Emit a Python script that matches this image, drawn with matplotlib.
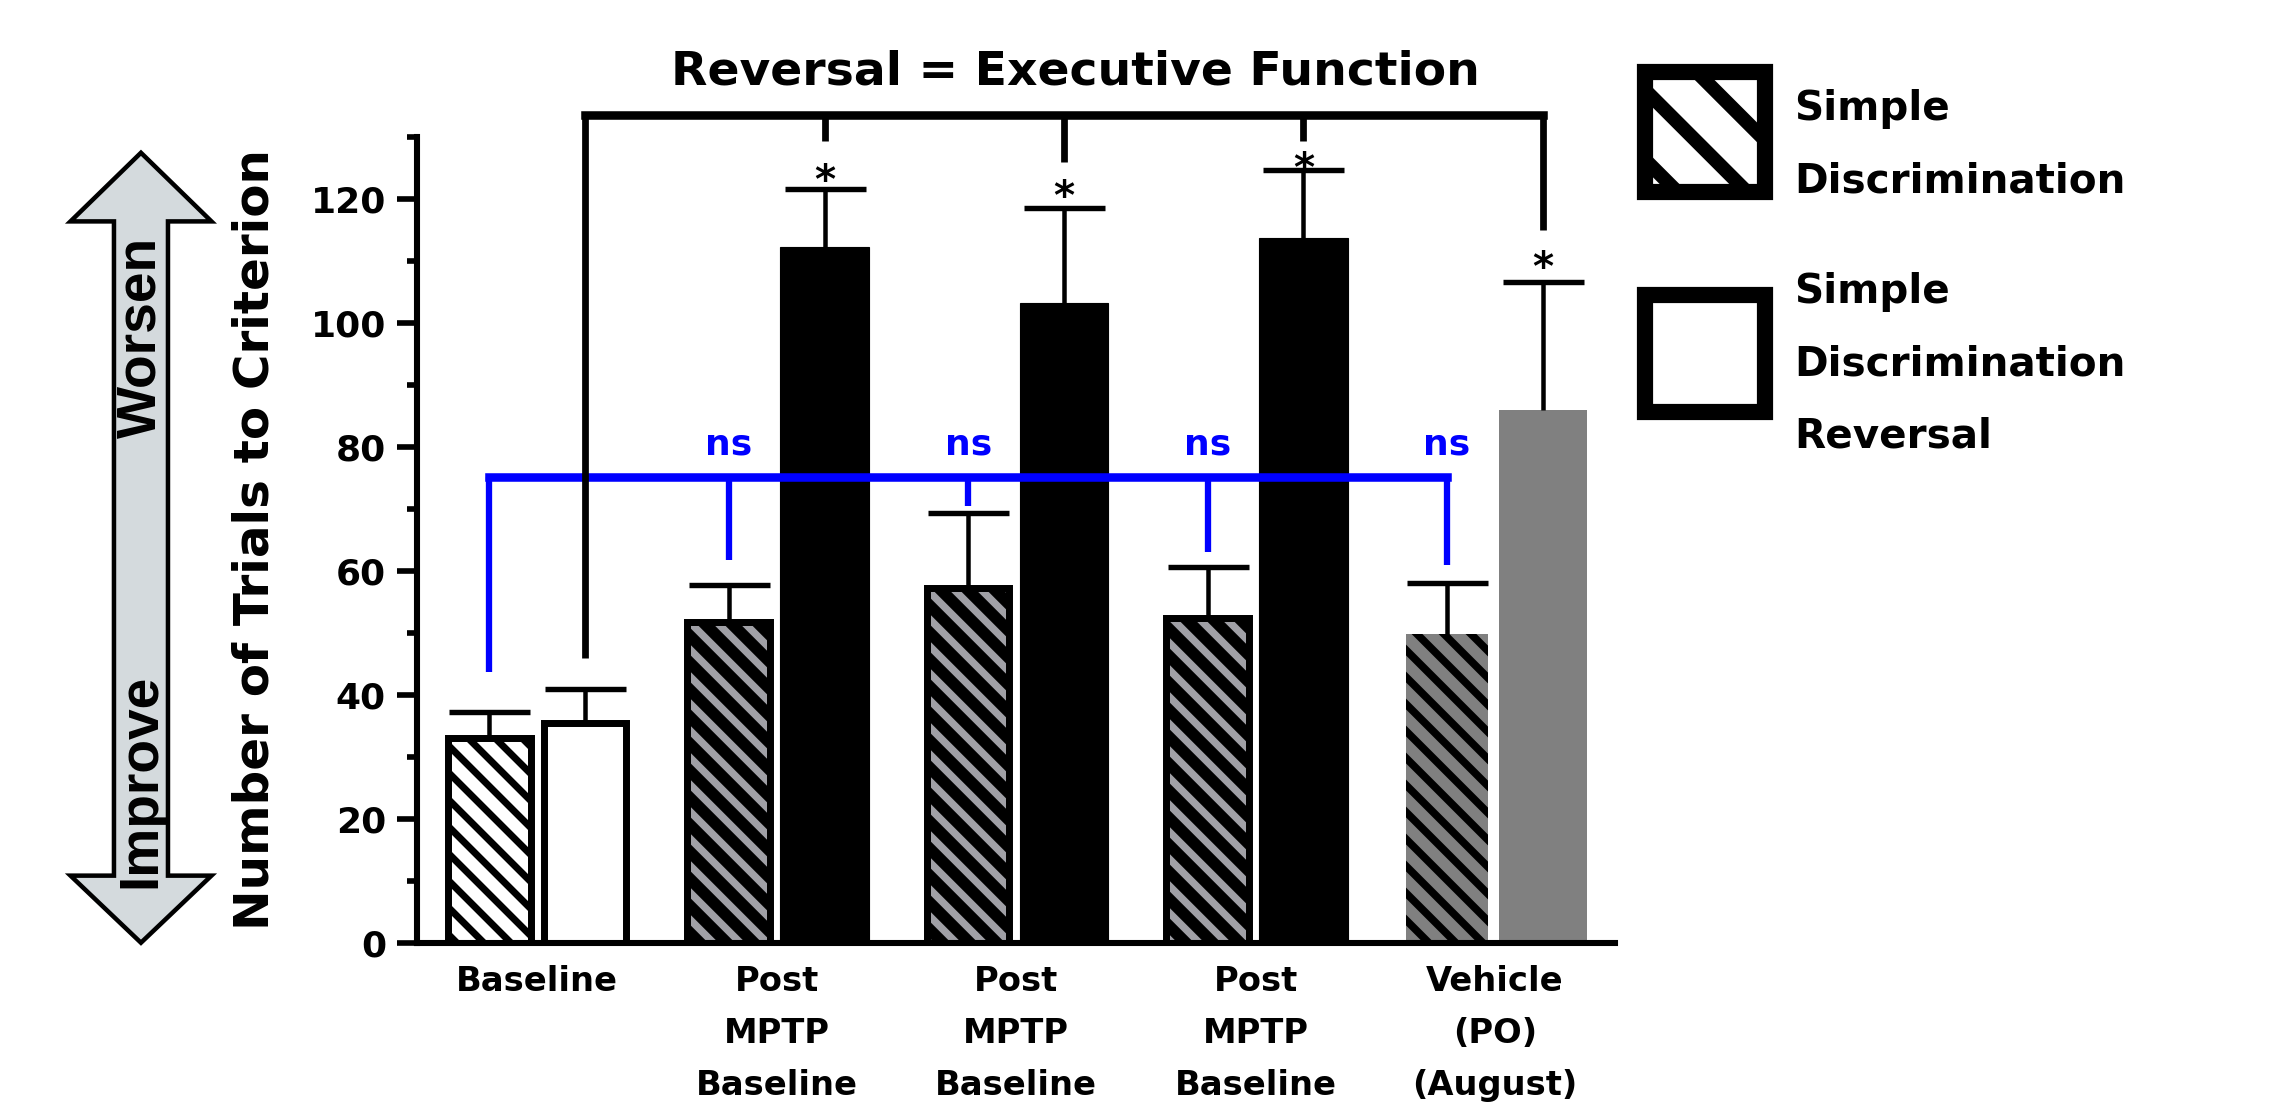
import numpy as np
import matplotlib
matplotlib.use('Agg')
import matplotlib.pyplot as plt
from matplotlib.patches import Polygon, Rectangle

# DATA
groups = ['Baseline', 'Post\nMPTP\nBaseline', 'Post\nMPTP\nBaseline',
          'Post\nMPTP\nBaseline', 'Vehicle\n(PO)\n(August)']
sd_mean = [33.1, 51.7, 57.3, 52.4, 49.8]      # simple discrimination
sd_sem = [4.2, 6.1, 12.0, 8.2, 8.2]
sdr_mean = [35.5, 112.3, 103.3, 113.7, 86.0]  # simple discrimination reversal
sdr_sem = [5.4, 9.4, 15.3, 11.0, 20.6]

# stats annotations
ns_level = 75.2
ns_drop = [43.7, 61.8, 70.5, 63.0, 61.0]       # blue legs (SD bars)
ns_y = 80.5
rev_level = 133.6
rev_drop = [46.0, 129.4, 126.1, 129.4, 115.1]  # black legs (SDR bars)
star_y = [122.8, 120.2, 124.7, 108.7]          # SDR bars 2..5

plt.rcParams['font.family'] = 'DejaVu Sans'
plt.rcParams['font.weight'] = 'bold'

DPI = 162
fig = plt.figure(figsize=(2281 / DPI, 1107 / DPI), dpi=DPI)
ax = fig.add_axes([0.1830, 0.1484, 0.5249, 0.7275])

x = np.arange(len(groups))
off = 0.2

sd_face = ['white', '#a0a0a6', '#a0a0a6', '#a0a0a6', '#808080']
sd_lw = [3.1, 3.1, 3.1, 3.1, 0]
sd_hlw = [3.1, 5.2, 5.2, 5.2, 3.4]
sdr_face = ['white', 'black', 'black', 'black', '#808080']
sdr_edge = ['black', 'black', 'black', 'black', '#808080']
sdr_lw = [3.1, 0.5, 0.5, 0.5, 0]

for i in range(len(groups)):
    with plt.rc_context({'hatch.linewidth': sd_hlw[i], 'hatch.color': 'black'}):
        b = ax.bar(x[i] - off, sd_mean[i], 0.345, color=sd_face[i], edgecolor='black',
                   linewidth=sd_lw[i], hatch='\\\\')
        if hasattr(b[0], 'set_hatch_linewidth'):
            b[0].set_hatch_linewidth(sd_hlw[i])
ax.bar(x + off, sdr_mean, [0.345, 0.37, 0.37, 0.37, 0.37], color=sdr_face,
       edgecolor=sdr_edge, linewidth=sdr_lw)

# upper error bars only
for xs, m, e in [(x - off, sd_mean, sd_sem), (x + off, sdr_mean, sdr_sem)]:
    _, caps, _ = ax.errorbar(xs, m, yerr=[np.zeros(len(e)), e], fmt='none',
                             ecolor='black', elinewidth=2.0, capsize=18, capthick=2.4)
    caps[0].set_visible(False)

# ns bracket (blue)
ax.plot([x[0] - off, x[-1] - off], [ns_level, ns_level], color='#0000ff', lw=3.8,
        solid_capstyle='projecting', zorder=3)
ax.vlines(x - off, ns_drop, ns_level, color='#0000ff', lw=2.8, zorder=3)
for xi in x[1:]:
    ax.text(xi - off, ns_y, 'ns', color='#0000ff', ha='center', va='center',
            fontsize=16, fontweight='bold')

# reversal bracket (black)
ax.plot([x[0] + off, x[-1] + off], [rev_level, rev_level], color='black', lw=3.8,
        solid_capstyle='projecting', zorder=4, clip_on=False)
ax.vlines(x + off, rev_drop, rev_level, color='black', lw=3.0, zorder=4, clip_on=False)
for xi, sy in zip(x[1:], star_y):
    ax.text(xi + off, sy, '*', ha='center', va='center', fontsize=18,
            fontweight='bold', zorder=5, clip_on=False)
ax.text(2.25, 140.6, 'Reversal = Executive Function', ha='center', va='center',
        fontsize=21, fontweight='bold', clip_on=False)

# axes styling
ax.set_xlim(-0.5, 4.5)
ax.set_ylim(0, 130)
ax.spines['top'].set_visible(False)
ax.spines['right'].set_visible(False)
ax.spines['left'].set_linewidth(2.7)
ax.spines['bottom'].set_linewidth(2.7)
ax.set_yticks(np.arange(0, 121, 20))
ax.set_yticks(np.arange(10, 131, 20), minor=True)
ax.tick_params(axis='y', which='major', length=9, width=2.5, labelsize=16, pad=5)
ax.tick_params(axis='y', which='minor', length=4.5, width=2.5)
ax.set_xticks(x)
ax.set_xticklabels(groups, fontsize=15, fontweight='bold', linespacing=1.72, va='top')
ax.tick_params(axis='x', length=0, pad=10)
ax.set_ylabel('Number of Trials to Criterion', fontsize=21.5, fontweight='bold')
ax.yaxis.set_label_coords(-0.116, 0.5)

# improve / worsen arrow
cx, sw, hw = 0.0618, 0.01184, 0.0309
arrow = Polygon([(cx, 0.862), (cx + hw, 0.800), (cx + sw, 0.800), (cx + sw, 0.209),
                 (cx + hw, 0.209), (cx, 0.1484), (cx - hw, 0.209), (cx - sw, 0.209),
                 (cx - sw, 0.800), (cx - hw, 0.800)], closed=True,
                transform=fig.transFigure, facecolor='#d4dadd', edgecolor='black', lw=2.0)
fig.add_artist(arrow)
fig.text(cx, 0.6955, 'Worsen', rotation=90, ha='center', va='center',
         fontsize=24.5, fontweight='bold', family=['Liberation Sans', 'DejaVu Sans'])
fig.text(cx, 0.2945, 'Improve', rotation=90, ha='center', va='center',
         fontsize=24.5, fontweight='bold', family=['Liberation Sans', 'DejaVu Sans'])

# legend swatches
lax1 = fig.add_axes([0.7212, 0.8266, 0.0526, 0.1084])
lax1.set_xlim(0, 1)
lax1.set_ylim(0, 1)
lax1.axis('off')
for b0 in [-0.43, 0.15, 0.73]:
    lax1.plot([-0.5, 1.5], [1 - b0 + 0.5, 1 - b0 - 1.5], color='black', lw=6.2,
              solid_capstyle='butt')
lax1.add_patch(Rectangle((0, 0), 1, 1, facecolor='none', edgecolor='black', lw=7.2,
                         clip_on=False, zorder=5))
lax2 = fig.add_axes([0.7212, 0.6278, 0.0526, 0.1057])
lax2.set_xlim(0, 1)
lax2.set_ylim(0, 1)
lax2.axis('off')
lax2.add_patch(Rectangle((0, 0), 1, 1, facecolor='white', edgecolor='black', lw=7.2,
                         clip_on=False))
fig.text(0.7865, 0.869, 'Simple\nDiscrimination', va='center', ha='left',
         fontsize=18, fontweight='bold', linespacing=2.05)
fig.text(0.7865, 0.671, 'Simple\nDiscrimination\nReversal', va='center', ha='left',
         fontsize=18, fontweight='bold', linespacing=2.05)

fig.savefig('out.png', dpi=DPI, facecolor='white')
